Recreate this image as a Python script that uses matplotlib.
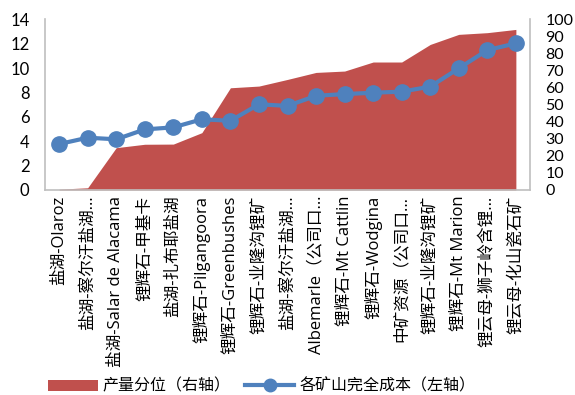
import matplotlib
matplotlib.use("Agg")
import matplotlib.pyplot as plt
from matplotlib.patches import Patch
from matplotlib.lines import Line2D

categories = [
    "盐湖-Olaroz",
    "盐湖-察尔汗盐湖…",
    "盐湖-Salar de Alacama",
    "锂辉石-甲基卡",
    "盐湖-扎布耶盐湖",
    "锂辉石-Pilgangoora",
    "锂辉石-Greenbushes",
    "锂辉石-业隆沟锂矿",
    "盐湖-察尔汗盐湖…",
    "Albemarle（公司口…",
    "锂辉石-Mt Cattlin",
    "锂辉石-Wodgina",
    "中矿资源（公司口…",
    "锂辉石-业隆沟锂矿",
    "锂辉石-Mt Marion",
    "锂云母-狮子岭含锂…",
    "锂云母-化山瓷石矿",
]
# 产量分位（右轴）
output_pct = [0.5, 1.3, 24.8, 26.8, 26.9, 33.6, 59.9, 60.9, 64.8, 68.9,
              69.7, 75.0, 75.0, 85.3, 91.2, 92.2, 94.1]
# 各矿山完全成本（左轴）
cost = [3.77, 4.29, 4.16, 4.97, 5.14, 5.80, 5.68, 7.03, 6.90, 7.73,
        7.87, 7.98, 8.07, 8.48, 9.98, 11.48, 12.03]

left_ticks = list(range(0, 15, 2))
right_ticks = list(range(0, 101, 10))

RED = "#C0504D"
BLUE = "#4F81BD"
GREY = "#BFBFBF"
num_font = "Lato"
lab_fonts = ["Open Sans", "Noto Sans CJK SC"]

fig = plt.figure(figsize=(5.75, 3.95), dpi=100)
ax = fig.add_axes([0.078, 0.519, 0.844, 0.432])
ax2 = ax.twinx()
ax.set_zorder(ax2.get_zorder() + 1)
ax.patch.set_visible(False)

x = list(range(len(categories)))
ax2.fill_between(x, 0, output_pct, color=RED, linewidth=0)
ax.plot(x, cost, color=BLUE, linewidth=3, marker="o", markersize=11,
        markerfacecolor=BLUE, markeredgecolor=BLUE)

ax.set_xlim(-0.5, len(categories) - 0.5)
ax.set_ylim(0, 14)
ax2.set_ylim(0, 100)
ax.set_yticks(left_ticks)
ax2.set_yticks(right_ticks)
ax.set_yticklabels([str(v) for v in left_ticks], fontsize=12, family=num_font)
ax2.set_yticklabels([str(v) for v in right_ticks], fontsize=11.5, family=num_font)
ax.tick_params(axis="y", length=0, pad=11)
ax2.tick_params(axis="y", length=0, pad=11)

ax.set_xticks(x)
ax.set_xticklabels(categories, rotation=90, fontsize=12, family=lab_fonts)
ax.tick_params(axis="x", length=0, pad=4)
ax2.tick_params(axis="x", length=0)

for s in ["top", "right"]:
    ax.spines[s].set_visible(False)
for s in ["top", "left", "bottom"]:
    ax2.spines[s].set_visible(False)
for a, s in [(ax, "left"), (ax, "bottom"), (ax2, "right")]:
    a.spines[s].set_color(GREY)
    a.spines[s].set_linewidth(1.2)

handles = [
    Patch(facecolor=RED, edgecolor="none"),
    Line2D([0], [0], color=BLUE, linewidth=3, marker="o", markersize=9),
]
labels = ["产量分位（右轴）", "各矿山完全成本（左轴）"]
fig.legend(handles, labels, loc="center", bbox_to_anchor=(0.455, 0.022),
           ncol=2, frameon=False, prop={"family": ["Noto Sans CJK SC"], "size": 11.5},
           handlelength=3.1, handleheight=0.7, handletextpad=0.3,
           columnspacing=0.9, borderpad=0, borderaxespad=0)

fig.savefig("out.png", dpi=100)
